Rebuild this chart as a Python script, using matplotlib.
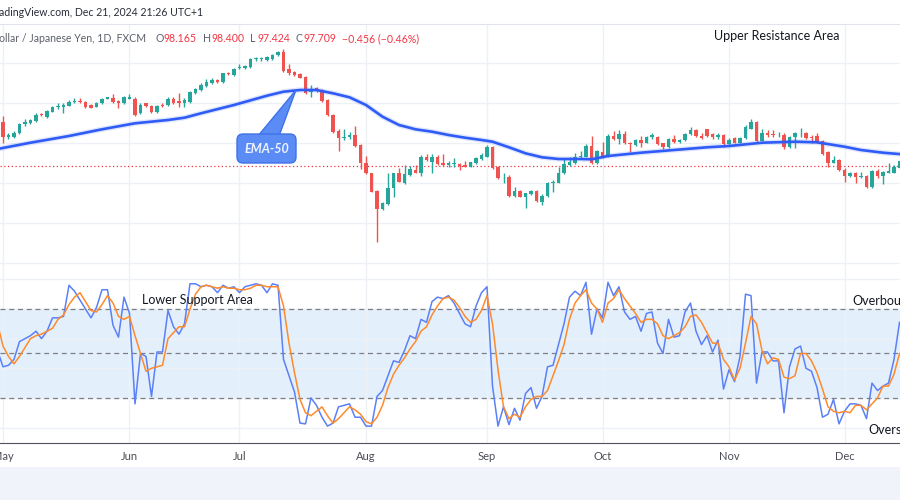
import numpy as np
import pandas as pd
import matplotlib.pyplot as plt
from matplotlib.patches import FancyBboxPatch, Polygon, Rectangle
from matplotlib.transforms import IdentityTransform

plt.rcParams['font.family'] = ['Lato', 'DejaVu Sans']

# Tageskerzen AUD/JPY ab 1. Mai 2024 (nur Werktage)
dates = pd.bdate_range("2024-05-01", periods=164)

opens = [102.13, 100.57, 100.57, 100.97, 101.90, 101.97, 102.20, 102.90, 102.63, 103.13,
         103.63, 103.63, 103.73, 104.07, 104.20, 104.07, 103.80, 103.63, 103.97, 104.43,
         104.47, 104.20, 103.97, 104.43, 104.37, 102.97, 103.97, 103.70, 103.07, 103.83,
         103.77, 104.37, 104.20, 104.03, 104.13, 104.97, 105.30, 105.73, 105.97, 106.30,
         106.07, 107.03, 106.80, 107.47, 107.47, 107.57, 108.40, 108.37, 108.30, 108.37,
         108.80, 109.13, 107.37, 107.13, 106.87, 106.63, 105.13, 105.47, 105.30, 104.30,
         102.80, 101.23, 100.53, 100.57, 100.80, 99.80, 97.97, 96.97, 95.23, 93.40,
         93.90, 95.47, 96.97, 95.97, 96.80, 97.30, 97.03, 98.63, 98.13, 98.63,
         98.03, 97.80, 97.90, 97.90, 97.80, 97.63, 97.97, 98.37, 98.63, 99.63,
         97.63, 96.57, 96.63, 94.70, 95.20, 94.63, 94.90, 95.23, 94.07, 94.70,
         96.03, 96.03, 96.97, 97.80, 98.03, 98.57, 98.63, 99.70, 97.97, 99.13,
         98.63, 100.70, 100.40, 100.90, 100.03, 99.80, 100.30, 100.03, 100.63, 100.63,
         99.97, 99.57, 100.40, 100.13, 100.30, 100.90, 101.30, 100.70, 101.37, 100.87,
         100.57, 100.77, 99.90, 100.53, 100.03, 100.47, 101.43, 102.10, 100.23, 100.97,
         100.90, 100.77, 100.80, 99.63, 100.57, 100.97, 101.03, 100.63, 100.70, 100.23,
         99.13, 98.03, 98.30, 97.30, 96.70, 96.97, 96.57, 96.70, 95.57, 97.23,
         96.70, 97.03, 97.03, 97.47]
highs = [102.70, 101.03, 101.20, 102.03, 102.43, 102.43, 102.97, 103.03, 103.30, 103.73,
         103.97, 104.03, 104.30, 104.47, 104.47, 104.20, 103.90, 104.10, 104.47, 104.63,
         104.87, 104.30, 104.70, 104.87, 104.57, 104.03, 104.03, 103.77, 103.77, 103.97,
         104.57, 104.57, 104.97, 104.47, 105.20, 105.47, 105.97, 106.37, 106.47, 106.40,
         107.03, 107.13, 107.47, 107.90, 107.83, 108.47, 108.57, 108.63, 108.70, 108.87,
         109.23, 109.37, 107.90, 107.20, 106.97, 106.70, 105.80, 105.63, 105.40, 104.37,
         102.90, 101.37, 101.37, 101.13, 101.70, 99.90, 98.70, 97.03, 95.30, 94.13,
         96.97, 97.03, 97.47, 97.77, 97.70, 97.77, 98.80, 98.87, 98.87, 98.80,
         98.87, 98.23, 98.47, 98.03, 98.23, 98.13, 98.63, 98.97, 99.80, 99.70,
         97.70, 96.97, 96.80, 95.63, 95.30, 95.03, 95.30, 95.30, 94.90, 96.13,
         96.30, 97.63, 98.47, 98.63, 98.97, 99.23, 99.87, 100.70, 99.30, 100.07,
         100.90, 101.23, 101.30, 101.23, 100.13, 100.37, 100.70, 100.70, 100.97, 100.70,
         100.03, 100.53, 100.77, 100.40, 100.97, 101.63, 101.37, 101.03, 101.43, 100.97,
         100.97, 100.87, 100.47, 100.63, 100.63, 101.80, 102.40, 102.23, 101.37, 101.30,
         101.30, 101.13, 100.97, 100.70, 101.07, 101.47, 101.10, 100.77, 100.97, 100.30,
         99.20, 98.70, 98.37, 97.47, 97.13, 97.13, 97.13, 96.77, 97.30, 97.37,
         97.23, 97.97, 97.80, 98.30]
lows = [99.97, 100.40, 100.47, 100.87, 101.70, 101.90, 102.13, 102.67, 102.53, 103.07,
        103.40, 103.03, 103.67, 103.97, 103.97, 103.53, 103.47, 103.57, 103.90, 104.37,
        104.00, 103.47, 103.90, 104.37, 102.70, 102.90, 103.63, 103.00, 103.00, 103.63,
        103.70, 103.90, 103.63, 103.63, 104.03, 104.90, 105.23, 105.63, 105.87, 105.97,
        106.03, 106.77, 106.70, 107.37, 107.37, 107.50, 108.23, 108.23, 108.23, 108.30,
        108.73, 107.13, 106.80, 106.73, 106.47, 104.90, 104.63, 105.13, 104.10, 102.70,
        101.03, 99.20, 100.30, 100.40, 99.63, 97.37, 96.87, 95.07, 90.07, 93.30,
        93.80, 94.63, 96.07, 95.90, 96.70, 96.97, 96.70, 98.23, 97.03, 97.80,
        97.70, 97.63, 97.63, 97.30, 97.57, 97.57, 97.90, 98.30, 98.57, 97.37,
        96.37, 96.03, 94.63, 94.63, 94.57, 93.53, 94.80, 94.10, 93.80, 94.63,
        95.13, 95.97, 96.90, 97.70, 97.90, 98.37, 98.57, 97.90, 97.90, 98.47,
        98.57, 100.30, 99.90, 99.87, 99.13, 99.70, 99.63, 99.97, 100.37, 99.80,
        99.37, 99.50, 100.03, 99.97, 100.23, 100.83, 100.63, 100.37, 100.63, 100.37,
        100.37, 99.57, 99.83, 99.97, 99.97, 100.37, 101.37, 100.13, 100.17, 100.57,
        100.63, 100.63, 99.37, 99.47, 99.47, 100.57, 100.37, 100.03, 100.03, 98.80,
        97.57, 97.97, 97.23, 96.13, 96.63, 95.97, 96.47, 95.47, 95.47, 96.47,
        95.90, 96.97, 96.97, 97.40]
closes = [100.63, 100.80, 101.03, 101.90, 102.10, 102.30, 102.80, 102.77, 103.20, 103.63,
          103.67, 103.77, 104.13, 104.20, 104.07, 103.63, 103.53, 104.03, 104.40, 104.57,
          104.07, 104.03, 104.63, 104.57, 102.80, 103.80, 103.70, 103.07, 103.70, 103.70,
          104.37, 103.97, 103.97, 104.30, 105.07, 105.37, 105.80, 106.07, 106.30, 106.07,
          106.97, 106.87, 107.37, 107.63, 107.73, 108.40, 108.47, 108.47, 108.57, 108.80,
          109.13, 107.23, 106.97, 106.80, 106.53, 104.97, 105.40, 105.23, 104.20, 102.80,
          101.13, 100.47, 100.63, 100.80, 99.70, 97.97, 96.97, 95.13, 93.40, 93.97,
          95.47, 96.97, 96.13, 96.90, 97.37, 97.03, 98.63, 98.30, 98.63, 97.90,
          97.80, 97.97, 98.03, 97.70, 97.63, 98.07, 98.47, 98.80, 99.63, 97.47,
          96.47, 96.63, 94.70, 95.20, 94.63, 94.97, 95.23, 94.20, 94.73, 96.03,
          96.13, 96.97, 97.90, 98.13, 98.63, 98.70, 99.70, 97.97, 99.20, 98.63,
          100.70, 100.37, 100.90, 99.97, 99.87, 100.30, 100.03, 100.63, 100.77, 99.87,
          99.57, 100.40, 100.10, 100.30, 100.90, 101.30, 100.70, 100.47, 100.70, 100.57,
          100.77, 99.90, 100.30, 100.03, 100.53, 101.57, 102.10, 100.23, 100.97, 100.83,
          100.77, 100.83, 99.63, 100.57, 100.97, 101.03, 100.47, 100.47, 100.13, 98.90,
          98.03, 98.30, 97.30, 96.70, 96.97, 96.63, 96.70, 95.63, 97.23, 96.70,
          97.13, 97.23, 97.63, 98.20]

# Letzter Kurs (Legende oben)
last_open, last_high, last_low, last_close = 98.165, 98.400, 97.424, 97.709
last_change, last_pct = -0.456, -0.46

ema_bar = [-1, 5, 12, 18, 24, 30, 33, 36, 42, 48, 51, 54, 57, 60, 63, 66, 69, 72, 75, 78,
           81, 84, 87, 89, 92, 95, 98, 101, 105, 107, 110, 116, 122, 128, 132, 138, 144,
           148, 153, 156, 160, 164]
ema_val = [99.40, 100.03, 100.70, 101.37, 101.97, 102.30, 102.53, 102.97, 103.80, 104.73,
           105.13, 105.30, 105.30, 104.97, 104.57, 103.80, 102.63, 101.80, 101.37, 101.13,
           100.80, 100.53, 100.30, 100.13, 99.57, 98.97, 98.57, 98.40, 98.40, 98.37,
           98.70, 99.03, 99.30, 99.57, 99.70, 100.03, 100.13, 100.07, 99.63, 99.30,
           99.03, 98.85]

# Stochastik %K und %D, Balken -1 bis 163
stoch_k = [52, 41, 42, 46, 58, 60, 62, 65, 60, 65, 74, 74, 75, 96, 92, 86, 80, 74, 81, 93,
           93, 69, 61, 88, 77, 16, 50, 48, 21, 51, 51, 79, 68, 63, 70, 97, 97, 95, 96, 95,
           91, 96, 94, 95, 91, 95, 96, 97, 96, 91, 97, 96, 46, 35, 24, 3, 2.5, 20, 15, 7,
           1, 3, 14, 15, 16, 7, 7, 1, 1, 21, 25, 35, 45, 44, 52, 62, 60, 73, 71, 85,
           88, 87, 89, 84, 77, 70, 68, 82, 91, 95, 28, 1, 14, 2, 13, 5, 23, 27, 13, 21,
           41, 42, 56, 70, 88, 92, 89, 98, 63, 80, 74, 98, 89, 95, 78, 73, 75, 65, 77, 78,
           57, 50, 73, 61, 62, 78, 84, 65, 56, 62, 51, 59, 26, 39, 31, 48, 90, 89, 30, 51,
           51, 45, 45, 10, 41, 53, 55, 40, 38, 27, 7, 9, 19, 2.5, 11, 16, 16, 15, 6, 30,
           25, 28, 30, 46, 71]
stoch_d = [70, 55, 48, 43, 48, 54, 60, 62, 63, 65, 67, 73, 76, 83, 88, 91, 85, 79, 78, 83,
           89, 84, 75, 73, 75, 62, 50, 38, 40, 41, 42, 60, 64, 68, 68, 80, 90, 95, 96, 95,
           94, 95, 94, 94, 93, 93, 94, 96, 96, 95, 95, 95, 82, 57, 37, 19, 10, 8, 11, 14,
           8, 3, 6, 10, 14, 12, 9, 4, 2.5, 7, 15, 27, 36, 42, 47, 53, 58, 65, 68, 76,
           82, 87, 88, 86, 81, 75, 71, 73, 79, 89, 70, 39, 14, 6, 9, 7, 14, 19, 21, 21,
           25, 35, 45, 56, 73, 84, 89, 93, 84, 80, 71, 84, 87, 93, 87, 82, 77, 71, 73, 73,
           70, 62, 60, 62, 64, 68, 75, 76, 71, 64, 57, 57, 46, 41, 32, 40, 57, 75, 70, 52,
           43, 47, 46, 34, 33, 35, 50, 50, 45, 37, 26, 14, 11, 10, 11, 10, 15, 15, 12, 16,
           20, 28, 28, 36, 50]

GREEN = "#26a69a"
RED = "#ef5350"
GRID = "#edf0f5"
TEXT = "#131722"

W, H = 900, 500


def fx(px):
    return px / W


def fy(py):
    return 1 - py / H


fig = plt.figure(figsize=(9, 5), dpi=100)
fig.patch.set_facecolor("white")

# Kurs-Fenster
ax1 = fig.add_axes([0, fy(266), 1, fy(24) - fy(266)])
# Stochastik-Fenster
ax2 = fig.add_axes([0, fy(443), 1, fy(266) - fy(443)], sharex=ax1)

x = np.arange(len(closes))
month_pos = [i for i in range(len(dates)) if i == 0 or dates[i].month != dates[i - 1].month]
month_lab = [dates[i].strftime("%b") for i in month_pos]

for ax in (ax1, ax2):
    ax.set_facecolor("white")
    for s in ax.spines.values():
        s.set_visible(False)
    ax.set_xticks(month_pos)
    ax.grid(True, color=GRID, lw=1)
    ax.set_axisbelow(True)
    ax.tick_params(length=0, labelleft=False)

ax1.set_xlim(-0.545, 163.09)
ax1.set_ylim(87.7, 111.9)
ax1.set_yticks([88, 92, 96, 100, 104, 108])
ax1.tick_params(labelbottom=False)
ax1.spines["top"].set_visible(True)
ax1.spines["top"].set_color("#e0e3eb")

# Kerzen
o = np.array(opens)
c = np.array(closes)
cols = [GREEN if cc >= oo else RED for oo, cc in zip(o, c)]
ax1.vlines(x, lows, highs, colors=cols, lw=1, zorder=2)
body = np.maximum(np.abs(c - o), 0.04)
ax1.bar(x, body, bottom=np.minimum(o, c), width=0.62, color=cols, lw=0, zorder=3)

# EMA-50
ax1.plot(ema_bar, ema_val, color="#2f5cf6", lw=3.8, alpha=0.15, solid_capstyle="round", zorder=4)
ax1.plot(ema_bar, ema_val, color="#2f5cf6", lw=1.9, zorder=5)

# Kurslinie
ax1.axhline(last_close, color="#f23645", lw=0.9, ls=(0, (1, 2)), zorder=1)

# Stochastik
ax2.set_ylim(-10.4, 109)
ax2.set_yticks([0, 20, 40, 60, 80, 100])
ax2.axhspan(20, 80, color="#e3f0fc", zorder=0)
for lvl in (80, 50, 20):
    ax2.axhline(lvl, color="#7d7f86", lw=0.9, ls=(0, (4, 3)), zorder=1)
xs = np.arange(-1, 164)
ax2.plot(xs, stoch_k, color="#5b80f7", lw=1.1, zorder=3)
ax2.plot(xs, stoch_d, color="#ff8a2b", lw=1.1, zorder=4)
ax2.spines["bottom"].set_visible(True)
ax2.spines["bottom"].set_color("#50535e")
ax2.set_xticklabels(month_lab)
ax2.tick_params(axis="x", pad=6, labelsize=8, labelcolor="#4a4d57")

# Kopfzeile
FS = 7.6
fig.text(fx(-1), fy(13), "adingView.com, Dec 21, 2024 21:26 UTC+1", fontsize=FS,
         color="#2a2e39", va="center", ha="left")
fig.text(fx(-1), fy(39), "ollar / Japanese Yen, 1D, FXCM", fontsize=FS,
         color="#5d606b", va="center", ha="left")
legend_items = [("O", last_open, 156), ("H", last_high, 203), ("L", last_low, 250), ("C", last_close, 295)]
for lab, val, px in legend_items:
    fig.text(fx(px), fy(39), lab, fontsize=FS, color="#5d606b", va="center", ha="left")
    fig.text(fx(px + 8), fy(39), f"{val:.3f}", fontsize=FS, color="#f23645", va="center", ha="left")
fig.text(fx(342), fy(39), f"\u2212{abs(last_change):.3f} (\u2212{abs(last_pct):.2f}%)",
         fontsize=FS, color="#f23645", va="center", ha="left")

# Beschriftungen
fig.text(fx(714), fy(36), "Upper Resistance Area", fontsize=9, color=TEXT, va="center", ha="left")
fig.text(fx(142), fy(300), "Lower Support Area", fontsize=9, color=TEXT, va="center", ha="left")
fig.text(fx(852), fy(301), "Overbought", fontsize=9, color=TEXT, va="center", ha="left")
fig.text(fx(868), fy(430), "Oversold", fontsize=9, color=TEXT, va="center", ha="left")

# EMA-50 Sprechblase (Pixelkoordinaten)
ident = IdentityTransform()
tri = Polygon([(258, H - 136), (279, H - 136), (296, H - 90)], closed=True,
              facecolor="#5b8cf5", edgecolor="#3f72e8", lw=1, transform=ident, zorder=10)
box = FancyBboxPatch((237, H - 163), 59, 29, boxstyle="round,pad=0,rounding_size=6",
                     facecolor="#5b8cf5", edgecolor="#3f72e8", lw=1, transform=ident, zorder=11)
fig.add_artist(tri)
fig.add_artist(box)
fig.text(fx(266.5), fy(149), "EMA-50", fontsize=9, color="#eef3ff", style="italic",
         weight="bold", va="center", ha="center", zorder=12)

# unterer Rand
fig.add_artist(Rectangle((0, 0), 1, fy(467), transform=fig.transFigure,
                         facecolor="#f0f3fa", edgecolor="none", zorder=0))

fig.savefig("out.png", dpi=100, facecolor="white")
